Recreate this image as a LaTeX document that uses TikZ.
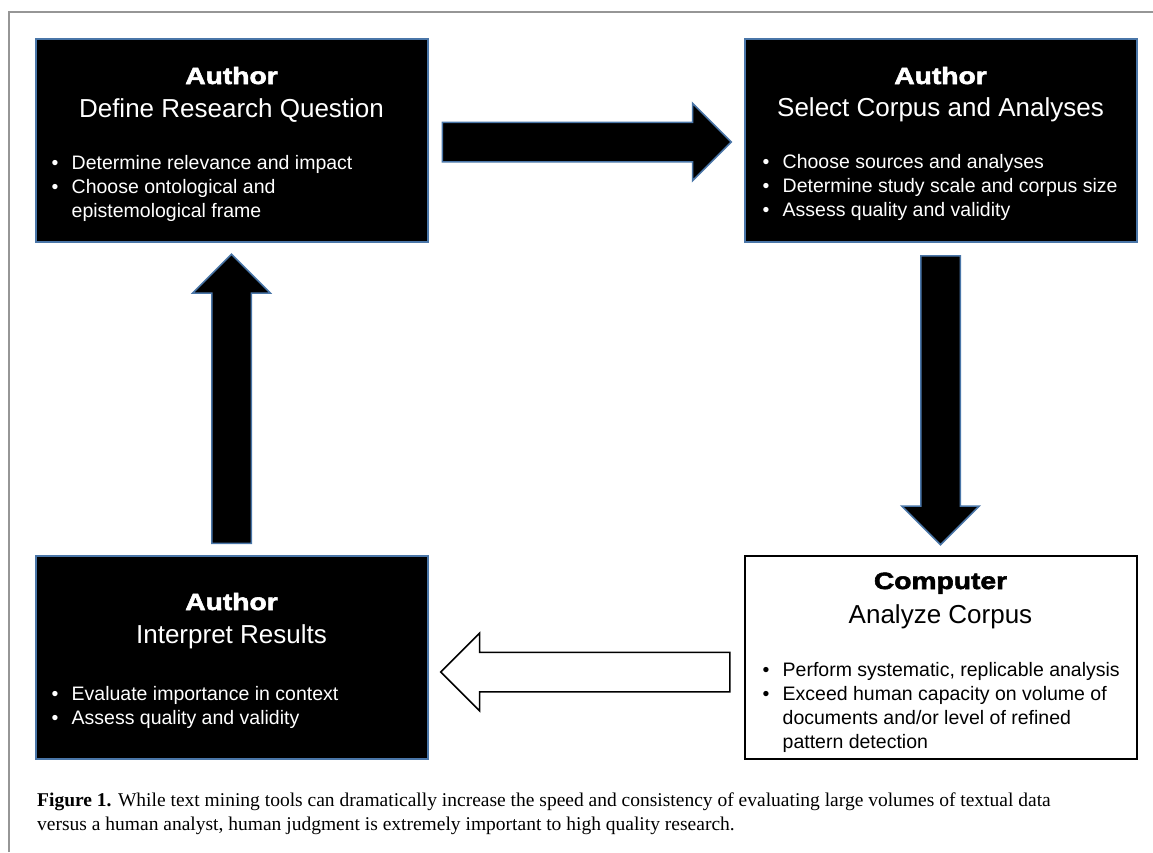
\documentclass[tikz,border=0pt]{standalone}
\usepackage{fontspec}
\setmainfont{Liberation Sans}
\newfontfamily\heavyfont[FakeStretch=1.2,BoldFeatures={FakeBold=2.5}]{Liberation Sans}
\newfontfamily\captionserif{Liberation Serif}
\usepackage{xcolor}
\usepackage{tikz}
\usetikzlibrary{shapes.arrows, positioning, calc}
\definecolor{boxblue}{RGB}{74,118,168}
\definecolor{framegray}{RGB}{150,150,150}

\begin{document}
\begin{tikzpicture}[x=1pt, y=-1pt,
  stage/.style={rectangle, draw=boxblue, line width=2pt, fill=black, minimum width=392pt, minimum height=203pt, inner sep=0pt, outer sep=0pt},
  machine/.style={stage, draw=black, fill=white},
  who/.style={font=\heavyfont\bfseries\fontsize{23.5}{28}\selectfont, inner sep=0pt, anchor=base},
  task/.style={font=\fontsize{26}{30}\selectfont, inner sep=0pt, anchor=base},
  points/.style={font=\fontsize{19.5}{24}\selectfont, align=left, inner sep=0pt, anchor=base west},
  fatarrow/.style={single arrow, single arrow head extend=19pt, minimum height=289pt, inner xsep=0pt, inner ysep=19pt, anchor=tail, fill=black, draw=boxblue, line width=1.5pt},
  hollowarrow/.style={fatarrow, fill=white, draw=black}
]
  \def\itemdot{\makebox[20pt][l]{\textbullet}}
  \def\itemgap{\hspace*{20pt}}

  \useasboundingbox (0,0) rectangle (1153,852);
  \draw[framegray, line width=1.5pt] (9,852) -- (9,12) -- (1153,12);

  \node[stage] (question) at (231.5,140.5) {};
  \node[stage] (corpus) at (940.5,140.5) {};
  \node[stage] (interpret) at (231.5,657.5) {};
  \node[machine] (analyze) at (940.5,657.5) {};

  \node[who, text=white] (questionwho) at ([yshift=-45pt]question.north) {Author};
  \node[task, text=white] (questiontask) at ([yshift=-78pt]question.north) {Define Research Question};
  \node[points, text=white] (questionpts) at ([xshift=16pt,yshift=-178pt]question.north west)
    {\itemdot Determine relevance and impact\\
     \itemdot Choose ontological and\\
     \itemgap epistemological frame};

  \node[who, text=white] (corpuswho) at ([yshift=-45pt]corpus.north) {Author};
  \node[task, text=white] (corpustask) at ([yshift=-77pt]corpus.north) {Select Corpus and Analyses};
  \node[points, text=white] (corpuspts) at ([xshift=18pt,yshift=-177pt]corpus.north west)
    {\itemdot Choose sources and analyses\\
     \itemdot Determine study scale and corpus size\\
     \itemdot Assess quality and validity};

  \node[who] (analyzewho) at ([yshift=-33pt]analyze.north) {Computer};
  \node[task] (analyzetask) at ([yshift=-67pt]analyze.north) {Analyze Corpus};
  \node[points] (analyzepts) at ([xshift=18pt,yshift=-192pt]analyze.north west)
    {\itemdot Perform systematic, replicable analysis\\
     \itemdot Exceed human capacity on volume of\\
     \itemgap documents and/or level of refined\\
     \itemgap pattern detection};

  \node[who, text=white] (interpretwho) at ([yshift=-54pt]interpret.north) {Author};
  \node[task, text=white] (interprettask) at ([yshift=-87pt]interpret.north) {Interpret Results};
  \node[points, text=white] (interpretpts) at ([xshift=16pt,yshift=-168pt]interpret.north west)
    {\itemdot Evaluate importance in context\\
     \itemdot Assess quality and validity};

  \node[fatarrow] (tocorpus) at ([xshift=14pt,yshift=-1.5pt]question.east) {};
  \node[fatarrow, rotate=-90] (toanalyze) at ([yshift=-13pt]corpus.south) {};
  \node[hollowarrow, rotate=180] (tointerpret) at ([xshift=-14pt,yshift=-14.5pt]analyze.west) {};
  \node[fatarrow, rotate=90] (toquestion) at ([yshift=12pt]interpret.north) {};

  \node[font=\captionserif\fontsize{19.5}{24}\selectfont, align=left, anchor=base west, inner sep=0pt] (caption) at (37,830)
    {\textbf{Figure 1.} While text mining tools can dramatically increase the speed and consistency of evaluating large volumes of textual data\\
     versus a human analyst, human judgment is extremely important to high quality research.};
\end{tikzpicture}
\end{document}
